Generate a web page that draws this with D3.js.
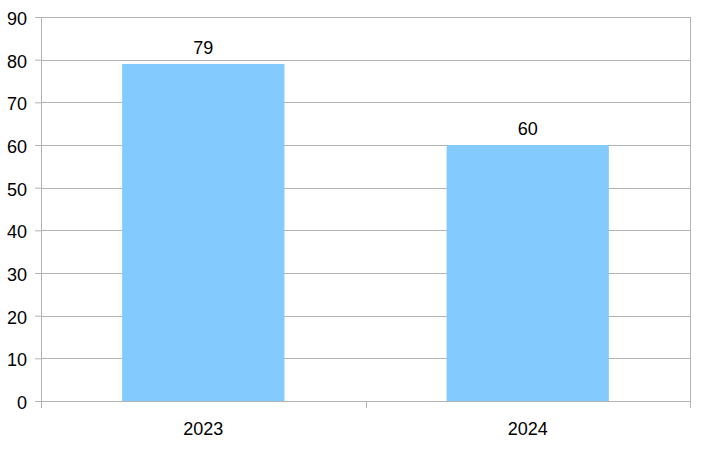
<!DOCTYPE html>
<html>
<head>
<meta charset="utf-8">
<script src="https://cdn.jsdelivr.net/npm/d3@7"></script>
<style>
  body { margin: 0; background: #fff; }
  text { font-family: "Liberation Sans", Arial, sans-serif; fill: #000; }
</style>
</head>
<body>
<svg id="chart" width="702" height="450"></svg>
<script>
// chart data
var years = ["2023", "2024"];
var values = [79, 60];
var yTicks = [0, 10, 20, 30, 40, 50, 60, 70, 80, 90];

var margin = {top: 17, right: 12, bottom: 49, left: 41},
    width = 702 - margin.left - margin.right,
    height = 450 - margin.top - margin.bottom;

var svg = d3.select("#chart")
  .append("g")
    .attr("transform", "translate(" + margin.left + "," + margin.top + ")");

var x = d3.scaleBand()
    .domain(years)
    .range([0, width])
    .paddingInner(0.5)
    .paddingOuter(0.25);

var y = d3.scaleLinear()
    .domain([0, 90])
    .range([height, 0]);

// horizontal grid
svg.selectAll(".grid")
    .data(yTicks)
  .enter().append("line")
    .attr("class", "grid")
    .attr("x1", 0)
    .attr("x2", width)
    .attr("y1", function(d) { return Math.round(y(d)) + 0.5; })
    .attr("y2", function(d) { return Math.round(y(d)) + 0.5; })
    .attr("stroke", "#b3b3b3");

// right border
svg.append("line")
    .attr("x1", width + 0.5).attr("x2", width + 0.5)
    .attr("y1", 0).attr("y2", height)
    .attr("stroke", "#b3b3b3");

// bars
svg.selectAll(".bar")
    .data(values)
  .enter().append("rect")
    .attr("class", "bar")
    .attr("x", function(d, i) { return x(years[i]); })
    .attr("width", x.bandwidth())
    .attr("y", function(d) { return y(d); })
    .attr("height", function(d) { return height - y(d); })
    .attr("fill", "#83caff");

// value labels
svg.selectAll(".val")
    .data(values)
  .enter().append("text")
    .attr("class", "val")
    .attr("x", function(d, i) { return x(years[i]) + x.bandwidth() / 2; })
    .attr("y", function(d) { return y(d) - 10; })
    .attr("text-anchor", "middle")
    .style("font-size", "18px")
    .text(function(d) { return d; });

// y axis
var yAxis = d3.axisLeft(y).tickValues(yTicks).tickSize(6).tickPadding(8);
var gy = svg.append("g").call(yAxis);
gy.select(".domain").attr("stroke", "#b3b3b3");
gy.selectAll(".tick line").attr("stroke", "#b3b3b3");
gy.selectAll(".tick text")
    .style("font-size", "18px")
    .attr("fill", "#000")
    .attr("dy", "0.42em");

// x axis with boundary ticks
var xPos = d3.scaleLinear().domain([0, years.length]).range([0, width]);
var gx = svg.append("g").attr("transform", "translate(0," + height + ")");
gx.append("line")
    .attr("x1", 0).attr("x2", width)
    .attr("y1", 0.5).attr("y2", 0.5)
    .attr("stroke", "#b3b3b3");
gx.selectAll(".xtick")
    .data(d3.range(years.length + 1))
  .enter().append("line")
    .attr("class", "xtick")
    .attr("x1", function(d) { return Math.round(xPos(d)) + 0.5; })
    .attr("x2", function(d) { return Math.round(xPos(d)) + 0.5; })
    .attr("y1", 0).attr("y2", 7)
    .attr("stroke", "#b3b3b3");
gx.selectAll(".xlabel")
    .data(years)
  .enter().append("text")
    .attr("class", "xlabel")
    .attr("x", function(d) { return x(d) + x.bandwidth() / 2; })
    .attr("y", 34)
    .attr("text-anchor", "middle")
    .style("font-size", "18px")
    .text(function(d) { return d; });
</script>
</body>
</html>
